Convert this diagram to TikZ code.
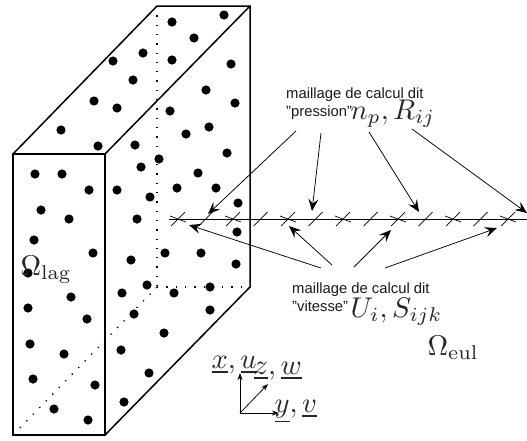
\documentclass[tikz,border=0pt]{standalone}
\usepackage{amsmath,amssymb}
\usepackage{fontspec}
\setsansfont{Liberation Sans}
\usetikzlibrary{arrows.meta}

\begin{document}
\begin{tikzpicture}[
  x=1pt, y=-1pt,
  >={Stealth[length=12pt,width=10pt,inset=4.5pt]},
  boxline/.style={draw=black, line width=1.5pt, line join=miter},
  hidden/.style={draw=black, line width=1.3pt, dash pattern=on 1.3pt off 8pt},
  particle/.style={circle, fill=black, minimum size=9.2pt, inner sep=0pt},
  mesh/.style={draw=black, line width=0.7pt},
  arr/.style={->, line width=0.75pt},
  axis/.style={-{Stealth[length=7pt,width=5pt,inset=2pt]}, line width=0.75pt},
  mathlabl/.style={scale=2.85, inner sep=0pt, anchor=base west, text=black!85},
  meshlabl/.style={font=\sffamily\fontsize{14.8}{18}\selectfont, inner sep=0pt,
                   anchor=north west, align=left, text=black!90}
]
\useasboundingbox (0,0) rectangle (527,440);

\coordinate (fTL) at (13,154);
\coordinate (fTR) at (105,154);
\coordinate (fBR) at (105,435);
\coordinate (fBL) at (13,435);
\coordinate (bTL) at (157,6);
\coordinate (bTR) at (250,6);
\coordinate (bBR) at (250,287);
\coordinate (bBL) at (157,287);

\draw[hidden] (bTL) -- (bBL);
\draw[hidden] (bBL) -- (bBR);
\draw[hidden] (bBL) -- (fBL);

\foreach \px/\py in {172/22, 224/15, 194/38, 143/53, 113/61, 172/60, 231/64, 133/80,
  206/90, 94/101, 117/108, 235/103, 170/111, 61/130, 209/127, 186/134, 98/146,
  135/145, 159/159, 141/167, 227/153, 198/173, 35/174, 62/174, 89/190, 117/190,
  177/188, 216/188, 150/197, 238/203, 41/210, 69/219, 137/219, 237/232, 34/240,
  93/253, 165/253, 201/253, 131/260, 236/264, 28/273, 147/285, 210/287, 122/293,
  174/293, 71/297, 28/308, 210/310, 134/314, 87/319, 164/333, 30/344, 121/350,
  64/354, 33/379, 149/373, 95/385, 54/409, 124/402, 88/420}
  \node[particle] (p\px-\py) at (\px,\py) {};

\draw[boxline] (fTL) -- (fTR) -- (fBR) -- (fBL) -- cycle;
\draw[boxline] (fTL) -- (bTL) -- (bTR) -- (bBR) -- (fBR);
\draw[boxline] (fTR) -- (bTR);

\coordinate (meshL) at (169,219);
\coordinate (meshR) at (527,219);
\draw[mesh] (meshL) -- (meshR);
\foreach \i in {0,...,12}
  \draw[mesh] ({178+27.5*\i-7},226) -- ({178+27.5*\i+7},212);
\foreach \i in {0,...,6}
  \draw[mesh] ({178+55*\i-8},216) -- ({178+55*\i+8},222);

\node[meshlabl] (pression) at (286,88) {maillage de calcul dit\\"pression"};
\node[meshlabl] (vitesse) at (292,283) {maillage de calcul dit\\"vitesse"};

\node[mathlabl] (npRij) at (350,119) {$n_p,R_{ij}$};
\node[mathlabl] (UiSijk) at (350,317) {$U_i,S_{ijk}$};
\node[mathlabl] (olag) at (20,275) {$\Omega_{\text{lag}}$};
\node[mathlabl] (oeul) at (427,355) {$\Omega_{\text{eul}}$};

\coordinate (pS1) at (296,131);
\coordinate (pS2) at (321,133);
\coordinate (pS3) at (369,132);
\coordinate (pS4) at (412,129);
\coordinate (pE1) at (208,214);
\coordinate (pE2) at (312,211);
\coordinate (pE3) at (419,212);
\coordinate (pE4) at (527,213);
\foreach \i in {1,2,3,4}
  \draw[arr] (pS\i) -- (pE\i);

\coordinate (vS1) at (321,268);
\coordinate (vS2) at (332,265);
\coordinate (vS3) at (354,267);
\coordinate (vS4) at (385,268);
\coordinate (vE1) at (189,225);
\coordinate (vE2) at (289,226);
\coordinate (vE3) at (391,230);
\coordinate (vE4) at (497,228);
\foreach \i in {1,2,3,4}
  \draw[arr] (vS\i) -- (vE\i);

\coordinate (orig) at (240,413);
\coordinate (xEnd) at (240,373);
\coordinate (yEnd) at (279,413);
\coordinate (zEnd) at (268,384);
\draw[axis] (orig) -- (xEnd);
\draw[axis] (orig) -- (yEnd);
\draw[axis] (orig) -- (zEnd);

\node[mathlabl] (xu) at (211,368) {$\underline{x},\underline{u}$};
\node[mathlabl] (zw) at (253,374) {$\underline{z},\underline{w}$};
\node[mathlabl] (yv) at (274,412) {$\underline{y},\underline{v}$};

\end{tikzpicture}
\end{document}
